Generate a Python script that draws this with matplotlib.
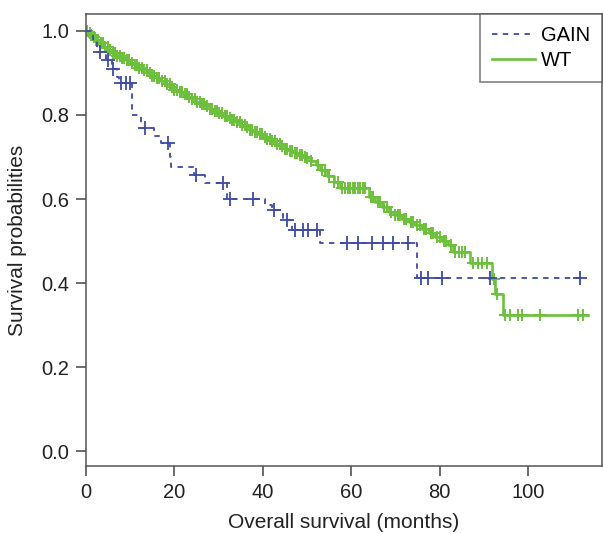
import numpy as np
import matplotlib.pyplot as plt

# GAIN group: step points (month, survival) and censor times
gain_t = [0, 1.5, 2.5, 4.5, 5.8, 7.0, 7.5, 10.3, 12.5, 15.5, 17.0, 19.0, 19.3,
          24.5, 27.0, 31.8, 40.5, 42.0, 44.5, 46.5, 53.0, 75.0, 112.0]
gain_s = [1.0, 0.975, 0.95, 0.93, 0.91, 0.89, 0.875, 0.80, 0.77, 0.75, 0.734,
          0.70, 0.677, 0.658, 0.639, 0.60, 0.585, 0.575, 0.551, 0.527, 0.496,
          0.413, 0.413]
gain_cens = [3.2, 5.0, 6.2, 8.0, 9.0, 10.0, 13.3, 18.6, 25.0, 31.0, 32.5, 37.7,
             42.5, 45.5, 47.3, 49.0, 50.3, 52.2, 59.0, 61.6, 64.6, 67.3, 69.5,
             72.8, 75.8, 77.3, 80.5, 91.4, 111.8]

# WT group
wt_t = [0, 0.5, 1, 1.5, 2, 3, 4, 5, 6, 7, 8, 9, 10, 11, 12, 13, 14, 15, 16, 17,
        18, 19, 20, 21, 22, 23, 24, 25, 26, 27, 28, 29, 30, 31, 32, 33, 34, 35,
        36, 37, 38, 39, 40, 41, 42, 43, 44, 45, 46, 47, 48, 49, 50, 51, 52, 53,
        54.5, 56, 57.5, 64, 65.5, 67, 68.5, 70, 71.5, 73, 74.5, 76, 77.5, 79,
        80.5, 82, 83, 86.8, 91.8, 92.5, 94.3, 113.6]
wt_s = [1.0, 0.995, 0.99, 0.985, 0.978, 0.97, 0.962, 0.955, 0.948, 0.94, 0.935,
        0.93, 0.924, 0.918, 0.912, 0.906, 0.899, 0.893, 0.887, 0.88, 0.873,
        0.866, 0.86, 0.855, 0.849, 0.843, 0.837, 0.831, 0.825, 0.82, 0.814,
        0.809, 0.804, 0.798, 0.793, 0.787, 0.782, 0.776, 0.771, 0.765, 0.759,
        0.754, 0.748, 0.743, 0.737, 0.731, 0.726, 0.72, 0.714, 0.709, 0.704,
        0.70, 0.697, 0.69, 0.68, 0.67, 0.655, 0.64, 0.627, 0.605, 0.592, 0.58,
        0.57, 0.562, 0.553, 0.545, 0.537, 0.528, 0.518, 0.51, 0.50, 0.49,
        0.475, 0.449, 0.41, 0.375, 0.325, 0.325]
wt_cens = [0.3, 0.8, 1.2, 1.8, 2.3, 2.7, 3.3, 3.8, 4.4, 4.9, 5.4, 6.0, 6.5, 7.1,
           7.6, 8.2, 8.7, 9.3, 9.8, 10.4, 11.0, 11.5, 12.1, 12.7, 13.2, 13.8,
           14.4, 15.0, 15.5, 16.1, 16.6, 17.2, 17.8, 18.3, 18.9, 19.5, 20.0,
           20.6, 21.2, 21.7, 22.3, 22.9, 23.4, 24.0, 24.6, 25.1, 25.7, 26.3,
           26.8, 27.4, 28.0, 28.5, 29.1, 29.7, 30.2, 30.8, 31.4, 31.9, 32.5,
           33.1, 33.6, 34.2, 34.8, 35.3, 35.9, 36.5, 37.0, 37.6, 38.2, 38.7,
           39.3, 39.9, 40.4, 41.0, 41.6, 42.1, 42.7, 43.3, 43.8, 44.4, 45.0,
           45.5, 46.1, 46.7, 47.2, 47.8, 48.4, 48.9, 49.5, 50.1, 51.0, 52.5,
           53.5, 54.0, 55.0, 56.0, 57.0, 58.0, 58.6, 59.2, 59.8, 60.3, 60.9,
           61.5, 62.0, 62.6, 63.2, 64.5, 65.0, 66.0, 66.5, 67.5, 68.0, 69.0,
           70.0, 70.5, 71.0, 72.0, 72.5, 73.5, 74.0, 75.0, 75.5, 76.5, 77.0,
           78.0, 78.5, 79.5, 80.0, 81.0, 81.5, 82.5, 83.5, 84.3, 85.0, 85.8,
           87.6, 88.6, 89.6, 90.8, 92.2, 93.0, 94.8, 95.9, 97.7, 98.6, 102.7,
           111.3, 112.4]

blue = '#3f4aa6'
green = '#6cc03c'


def surv_at(t_list, s_list, times):
    t = np.asarray(t_list)
    s = np.asarray(s_list)
    idx = np.searchsorted(t, times, side='right') - 1
    return s[idx]


plt.rcParams['font.family'] = ['Liberation Sans', 'DejaVu Sans']

fig = plt.figure(figsize=(6.03, 5.34), dpi=100)
ax = fig.add_axes([0.1426, 0.1273, 0.8554, 0.8465])

ax.plot(wt_t, wt_s, drawstyle='steps-post', color=green, lw=1.9, label='WT',
        zorder=2)
ax.plot(wt_cens, surv_at(wt_t, wt_s, wt_cens), ls='none', marker='+',
        ms=9, mew=1.4, color=green, zorder=2)

ax.plot(gain_t, gain_s, drawstyle='steps-post', color=blue, lw=1.3,
        dashes=(3, 3), label='GAIN', zorder=3)
ax.plot(gain_cens, surv_at(gain_t, gain_s, gain_cens), ls='none', marker='+',
        ms=10, mew=1.3, color=blue, zorder=3)

ax.set_xlim(0, 116.7)
ax.set_ylim(-0.035, 1.04)
ax.set_xticks([0, 20, 40, 60, 80, 100])
ax.set_yticks([0.0, 0.2, 0.4, 0.6, 0.8, 1.0])
ax.set_yticklabels(['0.0', '0.2', '0.4', '0.6', '0.8', '1.0'])
ax.tick_params(direction='out', length=7, width=1.1, colors='#444444',
               labelsize=14.5, labelcolor='#222222', pad=5)
for sp in ax.spines.values():
    sp.set_color('#555555')
    sp.set_linewidth(1.1)

ax.set_xlabel('Overall survival (months)', fontsize=15, color='#222222',
              labelpad=8)
ax.set_ylabel('Survival probabilities', fontsize=15, color='#222222',
              labelpad=10)

h, l = ax.get_legend_handles_labels()
leg = ax.legend(h[::-1], l[::-1], loc='upper right', borderaxespad=0,
                fancybox=False, frameon=True, fontsize=14.5, handlelength=2.1,
                handletextpad=0.3, borderpad=0.6, labelspacing=0.3,
                edgecolor='#555555')
leg.get_frame().set_linewidth(1.1)

fig.savefig('out.png', dpi=100)
